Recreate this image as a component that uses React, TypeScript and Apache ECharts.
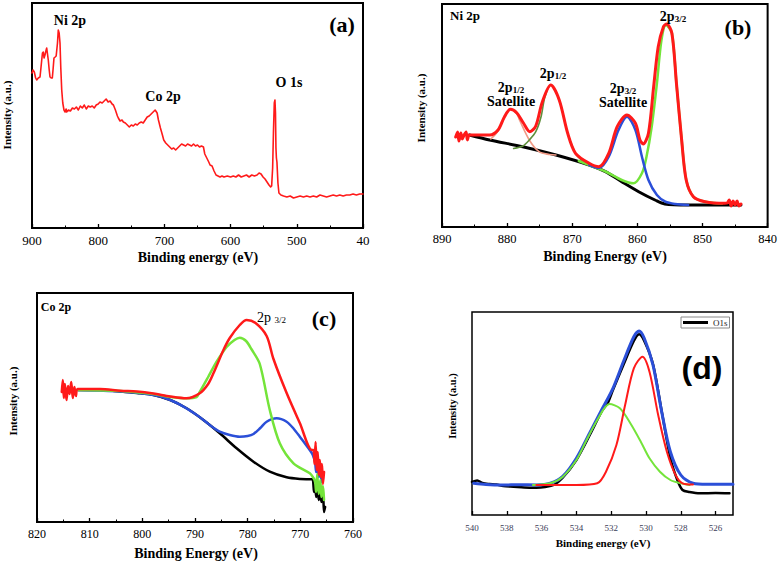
import React, { useEffect, useRef } from 'react';
import * as echarts from 'echarts';

const SERIF = '"Liberation Serif", "Times New Roman", serif';
const SANS = '"Liberation Sans", Arial, sans-serif';

// ---------- (a) survey spectrum: [binding energy eV, intensity a.u.] ----------
const surveyTicks = [900, 800, 700, 600, 500, 400];
const survey: number[][] = [
  [900, 155], [898.5, 158], [896.5, 156], [894.5, 150], [892.9, 148], [890.5, 150], [887.9, 151], [886.5, 160],
  [885.3, 168], [884.2, 175], [882.9, 176], [881.8, 170], [880.4, 173], [879, 177], [877.8, 180], [876.8, 175],
  [875.4, 168], [874, 158], [872.8, 151], [871, 150], [869.3, 150], [868, 160], [866.8, 170], [865, 171],
  [863.5, 172], [862.7, 172], [861.5, 185], [860.3, 198], [859, 195], [857.7, 185], [856.5, 160], [855.1, 138],
  [853.5, 125], [851.7, 118], [850, 116], [848.5, 119], [847.6, 116], [845, 118], [842, 117], [839, 120],
  [836, 119], [833, 121], [830, 118], [827, 122], [824, 120], [821, 123], [818, 119], [815, 122], [812, 121],
  [809, 122], [806, 120], [803, 123], [800, 124], [797.3, 126], [794, 125], [791, 127], [788, 129], [785, 126],
  [782, 127], [779, 124], [777, 123], [774, 118], [771, 112], [769.6, 110], [767, 107], [764, 108], [762, 106],
  [759, 105], [756, 103], [753, 101], [750, 103], [747, 102], [744, 104], [741, 103], [738, 105], [735, 106],
  [732, 105], [729, 108], [726, 111], [723, 112], [720, 114], [717, 116], [714, 118], [711, 115], [709, 108],
  [706, 100], [703, 93], [701, 88], [698, 85], [695, 83], [692, 81], [689, 79], [686, 80], [683, 78], [680, 80],
  [677, 82], [674, 84], [671, 83], [668, 82], [665, 84], [662, 83], [659, 82], [656, 84], [653, 82], [650, 83],
  [647, 81], [644, 82], [641, 81], [639, 74], [636, 70], [633, 66], [631, 63], [628, 62], [625, 57], [622, 53],
  [619, 52], [616, 51], [613, 52], [610, 51], [605, 52], [600, 51], [596, 52], [592, 51], [588, 53], [584, 51],
  [580, 52], [576, 53], [572, 51], [568, 53], [564, 52], [560, 53], [557, 55], [554, 54], [551, 51], [548, 49],
  [545, 46], [542, 43], [539.5, 41], [538, 42], [536.5, 60], [535.3, 95], [534, 125], [533, 128], [532.2, 115],
  [531.5, 80], [530.8, 70], [530, 66], [528.5, 45], [527, 35], [524, 33], [520, 32], [515, 31], [510, 32],
  [505, 30], [500, 31], [495, 32], [490, 31], [485, 32], [480, 31], [475, 32], [470, 31], [465, 33], [460, 32],
  [455, 31], [450, 32], [445, 33], [440, 32], [435, 33], [430, 32], [425, 33], [420, 33], [415, 34], [410, 33],
  [405, 34], [400, 34],
];

// ---------- (b) Ni 2p ----------
const niTicks = [890, 880, 870, 860, 850, 840];
const niEnvelope: number[][] = [
  [887.9, 90], [887.6, 95], [887.4, 86], [887.1, 94], [886.9, 88], [886.6, 92], [886.3, 95], [886.1, 87],
  [885.8, 92], [884, 92], [882.7, 92], [881.4, 97], [880.4, 110.3], [879.5, 117.7], [878.5, 114], [877.5, 104],
  [876.5, 95.3], [875.6, 101], [874.6, 125], [873.3, 142], [872, 127], [870.7, 93.7], [869.5, 73.7],
  [867.4, 63.7], [865.9, 60.3], [864.4, 73.7], [863.1, 100.3], [861.6, 112], [860.3, 103.7], [859.6, 87],
  [859.1, 83], [858.3, 93.7], [857.5, 140.3], [856.8, 180.3], [856, 200.3], [855.5, 203], [854.7, 193.7],
  [854, 143.7], [853.2, 87], [852.5, 47], [851.4, 30.3], [849.6, 25.3], [846.6, 23.7], [846.2, 24], [845.9, 27],
  [845.6, 21], [845.3, 26], [845, 22], [844.7, 26], [844.4, 21], [844.1, 23],
];
const niBackground: number[][] = [
  [885.8, 92], [882.7, 87], [877.6, 80.3], [872.5, 72], [867.4, 62], [864.9, 55.3], [862.4, 45.3],
  [859.8, 35.3], [857.3, 27], [855.8, 23], [852.2, 22], [844.1, 22],
];
const niSat32: number[][] = [
  [867.4, 62.2], [865.9, 59], [864.4, 70.3], [862.9, 97], [861.6, 110.3], [860.3, 97], [859.3, 70.3],
  [858.3, 47], [857, 32], [855.7, 25.3], [854.2, 23], [852.2, 22],
];
const niMain32: number[][] = [
  [869, 66], [867.4, 62], [864.9, 55.5], [862.4, 47], [860.6, 43.7], [859.3, 53.7], [858.6, 70.3],
  [857.8, 100.3], [857, 143.7], [856.3, 187], [855.6, 202], [854.7, 193.7], [854, 143.7], [853.2, 87],
  [852.5, 47], [851.4, 30.3], [849.6, 25.3], [847, 23.5],
];
const niMain12: number[][] = [
  [879, 78.5], [877.6, 81], [876.6, 87], [875.6, 95.3], [874.8, 110], [874.2, 130], [873.3, 142], [872, 127],
  [870.7, 93.7], [869.5, 73.7], [868.4, 66],
];
const niSat12: number[][] = [
  [882.5, 88], [881.4, 96], [880.4, 110], [879.5, 117.7], [878.5, 113], [878.1, 107], [876.6, 87],
  [875.1, 75.3], [873.5, 72.5], [872.5, 72],
];

// ---------- (c) Co 2p ----------
const coTicks = [820, 810, 800, 790, 780, 770, 760];
const coEnvelope: number[][] = [
  [815.3, 130], [815.1, 142], [814.9, 124], [814.7, 138], [814.4, 122], [814.1, 136], [813.8, 128],
  [813.5, 140], [813.2, 124], [812.9, 135], [812.6, 126], [812.3, 133], [808, 133], [804.2, 131.3], [801, 130.5],
  [797.9, 128.5], [794.7, 125.5], [791.6, 123.7], [789.1, 128.7], [787.5, 138], [786.5, 148.7],
  [784.6, 172], [783.4, 184], [781.5, 197], [780.2, 202], [778.5, 199], [776.4, 186], [775.1, 163],
  [772.6, 129], [770.1, 99], [767.8, 72], [767.5, 72], [767.3, 58], [767.1, 80], [766.9, 52], [766.7, 70],
  [766.5, 47], [766.3, 62], [766.1, 45], [765.9, 58], [765.7, 38], [765.5, 50],
];
const coBackground: number[][] = [
  [812.2, 132], [808, 132], [804.2, 130.5], [801, 129], [797.9, 127], [794.7, 122], [791.6, 113.7],
  [788.4, 102], [785.3, 88.7], [782.1, 73.7], [778.9, 60.3], [775.8, 50.3], [772.6, 44.7], [770, 43],
  [767.8, 42.7], [767.6, 42], [767.4, 30], [767.2, 38], [767, 25], [766.8, 35], [766.5, 22], [766.3, 33],
  [766, 20], [765.7, 28], [765.5, 10], [765.3, 15],
];
const coPeakMain: number[][] = [
  [812.2, 132], [804.2, 131], [797.9, 128], [794.7, 125], [791.6, 123.7], [789.7, 125], [789.1, 130],
  [787.5, 145], [785.9, 160.3], [784, 175], [782.5, 182], [781.5, 184.3], [780.3, 181], [779.3, 173],
  [777.7, 158], [775.8, 112], [773.9, 78.7], [771.3, 58.7], [768.2, 48.7], [767.5, 44],
  [767.2, 40], [767, 30], [766.8, 48], [766.5, 28], [766.2, 42], [766, 25], [765.7, 36], [765.5, 22],
];
const coPeakLow: number[][] = [
  [812.2, 132], [804.2, 130.5], [797.9, 127], [794.7, 122], [791.6, 113.7], [789.4, 106], [787.2, 97],
  [785.3, 90.3], [783.4, 87], [781.5, 85.3], [780, 86], [778.9, 88], [777.6, 94], [776.4, 100.3],
  [774.5, 103.7], [772.6, 100.3], [771.3, 93.5], [770.1, 85.3], [767.8, 68.7], [767.5, 65], [767.2, 60],
  [767, 50], [766.8, 58], [766.5, 45], [766.2, 52], [766, 40],
];

// ---------- (d) O 1s ----------
const oTicks = [540, 538, 536, 534, 532, 530, 528, 526];
const oData: number[][] = [
  [540, 33], [539.7, 34.5], [539.4, 32], [539, 31], [538.6, 30.5], [538.2, 29], [537.6, 28.3], [537, 27.5],
  [536.3, 27.3], [535.8, 28], [535.3, 30], [534.8, 37], [534, 55], [533.2, 81], [532.5, 105], [532.2, 112],
  [531.9, 125], [531.3, 150], [530.7, 174], [530.4, 180.7], [530.1, 174], [529.6, 151], [529.1, 104],
  [528.6, 57], [528.2, 35], [527.9, 25], [527.5, 23], [526.9, 21.7], [526, 22], [525.2, 21.7],
];
const oFit: number[][] = [
  [539.9, 31.7], [539.2, 30.5], [538.2, 30], [537.3, 30.3], [536.3, 30], [535.5, 31.7], [534.8, 38.3],
  [534, 56.7], [533.2, 83.3], [532.5, 106.7], [531.9, 126.7], [531.3, 153.3], [530.7, 178.3], [530.4, 184],
  [530.1, 176.7], [529.6, 150], [529.1, 103.3], [528.6, 63.3], [528, 40], [527.3, 31.7], [526.5, 30.7],
  [525, 30.7],
];
const oLattice: number[][] = [
  [536.3, 30], [534, 30], [532.8, 31.7], [532.3, 43.3], [531.7, 70], [531.2, 110], [530.7, 146.7],
  [530.2, 158.3], [529.8, 143.3], [529.3, 100], [528.8, 63.3], [528.3, 40], [527.9, 31.7], [527.3, 30.5],
];
const oSurface: number[][] = [
  [536.5, 30], [535.5, 31.7], [534.8, 38], [534, 55], [533.5, 72], [532.8, 95], [532.1, 111], [531.5, 106.7],
  [530.9, 91.7], [530.3, 73.3], [529.8, 56.7], [529.2, 43.3], [528.6, 35], [528, 31.7], [527.5, 30],
];

const RED = '#ff1a1a';
const GREEN = '#74e43a';
const BLUE = '#2b4fd8';
const BLACK = '#000000';

function line(data: number[][], idx: number, color: string, width: number, smooth: number | boolean, z: number, name?: string) {
  return {
    type: 'line',
    name,
    xAxisIndex: idx,
    yAxisIndex: idx,
    data: data.map(([e, v]) => [-e, v]),
    showSymbol: false,
    symbol: 'none',
    smooth,
    lineStyle: { color, width, cap: 'round', join: 'round' },
    itemStyle: { color },
    z,
    silent: true,
  };
}

function xAxis(idx: number, ticks: number[], fontSize: number, margin: number, color: string, minor: boolean, fmt?: (v: number) => string) {
  const interval = ticks[0] - ticks[1];
  return {
    type: 'value',
    gridIndex: idx,
    min: -ticks[0],
    max: -(ticks[ticks.length - 1] - (idx === 3 ? 1 : 0)),
    interval,
    axisLine: { show: false },
    axisTick: { show: true, inside: true, length: 4, lineStyle: { color: '#000', width: 1.3 } },
    minorTick: { show: minor, splitNumber: 2, length: 2.5, lineStyle: { color: '#000', width: 1 } },
    splitLine: { show: false },
    minorSplitLine: { show: false },
    axisLabel: {
      formatter: fmt || ((v: number) => String(-v)),
      fontFamily: SERIF,
      fontSize,
      color,
      margin,
      showMaxLabel: idx !== 3,
    },
  };
}

function yAxis(idx: number, max: number) {
  return {
    type: 'value',
    gridIndex: idx,
    min: 0,
    max,
    axisLine: { show: false },
    axisTick: { show: false },
    axisLabel: { show: false },
    splitLine: { show: false },
  };
}

function txt(x: number, y: number, text: string, size: number, opts: any = {}) {
  return {
    type: 'text',
    x,
    y,
    rotation: opts.rotation || 0,
    z: 100,
    silent: true,
    style: {
      text,
      fontFamily: opts.family || SERIF,
      fontSize: size,
      fontWeight: opts.weight || 'bold',
      fill: opts.color || '#000',
      align: opts.align || 'center',
      verticalAlign: 'middle',
      rich: opts.rich,
    },
  };
}

const subRich = (size: number, sub: number, weight: string) => ({
  m: { fontFamily: SERIF, fontSize: size, fontWeight: weight, lineHeight: size + 4, verticalAlign: 'bottom' },
  s: { fontFamily: SERIF, fontSize: sub, fontWeight: weight, lineHeight: sub + 1, verticalAlign: 'bottom' },
});

export default function App() {
  const ref = useRef<HTMLDivElement>(null);
  useEffect(() => {
    document.body.style.margin = '0';
    if (!ref.current) return;
    const chart = echarts.init(ref.current, null, { renderer: 'svg' });
    const frame = (b: number) => ({ show: true, borderColor: '#000', borderWidth: b, backgroundColor: 'transparent' });
    chart.setOption({
      animation: false,
      backgroundColor: '#ffffff',
      grid: [
        { left: 32, top: 3, width: 331, height: 225, ...frame(2) },
        { left: 442, top: 4, width: 328, height: 223, ...frame(2) },
        { left: 37, top: 293, width: 316, height: 229, ...frame(2) },
        { left: 472, top: 312, width: 261, height: 203, ...frame(1.5) },
      ],
      xAxis: [
        xAxis(0, surveyTicks, 13, 6, '#000', true, (v: number) => (v === -400 ? '40' : String(-v))),
        xAxis(1, niTicks, 12.5, 5, '#000', true),
        xAxis(2, coTicks, 12, 6, '#000', true),
        xAxis(3, oTicks, 9, 8, '#3b3d58', false),
      ],
      yAxis: [yAxis(0, 225), yAxis(1, 223), yAxis(2, 229), yAxis(3, 203)],
      legend: {
        left: 681,
        top: 317,
        padding: [1, 2, 1, 2],
        itemWidth: 25,
        itemHeight: 3,
        itemGap: 0,
        borderColor: '#8a8a8a',
        borderWidth: 1,
        selectedMode: false,
        data: [{ name: 'O1s', icon: 'rect', itemStyle: { color: '#000' } }],
        textStyle: { fontFamily: SERIF, fontSize: 9, color: '#222' },
      },
      series: [
        line(survey, 0, RED, 1.6, false, 3),
        line(niBackground, 1, BLACK, 3, 0.3, 2),
        line(niSat12, 1, '#f19a86', 1.6, 0.3, 3),
        line(niMain12, 1, '#5f8f3c', 1.6, 0.3, 3),
        line(niMain32, 1, GREEN, 2.5, 0.3, 4),
        line(niSat32, 1, BLUE, 2.5, 0.3, 5),
        line(niEnvelope, 1, RED, 3, 0.3, 6),
        line(coBackground, 2, BLACK, 2.5, 0.3, 2),
        line(coPeakLow, 2, BLUE, 2.5, 0.3, 3),
        line(coPeakMain, 2, GREEN, 2.5, 0.3, 4),
        line(coEnvelope, 2, RED, 2.5, 0.3, 5),
        line(oData, 3, BLACK, 2.5, 0.3, 2, 'O1s'),
        line(oFit, 3, BLUE, 3, 0.3, 3),
        line(oSurface, 3, GREEN, 2, 0.3, 4),
        line(oLattice, 3, RED, 2, 0.3, 5),
      ],
      graphic: [
        // (a)
        txt(70, 20, 'Ni 2p', 14),
        txt(163, 96, 'Co 2p', 14),
        txt(289, 82, 'O 1s', 14),
        txt(342, 24, '(a)', 22),
        txt(198, 257, 'Binding energy (eV)', 14),
        txt(7, 115, 'Intensity (a.u.)', 11, { rotation: Math.PI / 2 }),
        // (b)
        txt(465, 15, 'Ni 2p', 13),
        txt(738, 27, '(b)', 22),
        txt(511, 85, '{m|2p}{s|1/2}', 14, { rich: subRich(14, 9, 'bold') }),
        txt(511, 101, 'Satellite', 14),
        txt(553, 71, '{m|2p}{s|1/2}', 14, { rich: subRich(14, 9, 'bold') }),
        txt(623, 86, '{m|2p}{s|3/2}', 14, { rich: subRich(14, 9, 'bold') }),
        txt(623, 102, 'Satellite', 14),
        txt(673, 14, '{m|2p}{s|3/2}', 14, { rich: subRich(14, 9, 'bold') }),
        txt(605, 256, 'Binding Energy (eV)', 14),
        txt(421, 108, 'Intensity (a.u.)', 11, { rotation: Math.PI / 2 }),
        // (c)
        txt(56, 307, 'Co 2p', 12),
        txt(257, 315, '{m|2p }{s|3/2}', 14, { align: 'left', weight: 'normal', rich: subRich(14, 9, 'normal') }),
        txt(324, 318, '(c)', 22),
        txt(196, 553, 'Binding Energy (eV)', 14),
        txt(13, 401, 'Intensity (a.u.)', 11, { rotation: Math.PI / 2 }),
        // (d)
        txt(702, 368, '(d)', 32, { family: SANS }),
        txt(603, 543, 'Binding energy (eV)', 11),
        txt(452, 406, 'Intensity (a.u.)', 10.5, { rotation: Math.PI / 2 }),
      ],
    });
    return () => chart.dispose();
  }, []);
  return <div ref={ref} style={{ width: 780, height: 561 }} />;
}
